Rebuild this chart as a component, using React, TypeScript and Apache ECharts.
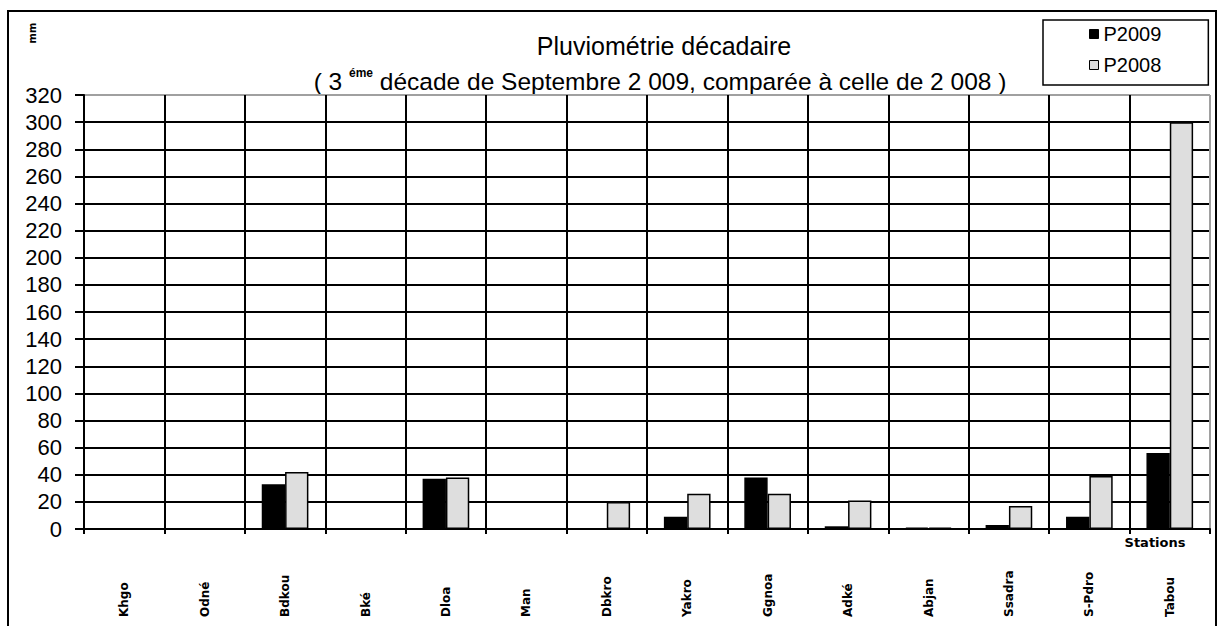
import React, { useEffect, useRef } from 'react';
import * as echarts from 'echarts';

const categories = ['Khgo', 'Odné', 'Bdkou', 'Bké', 'Dloa', 'Man', 'Dbkro', 'Yakro', 'Ggnoa', 'Adké', 'Abjan', 'Ssadra', 'S-Pdro', 'Tabou'];
const p2009 = [0, 0, 33, 0, 37, 0, 0, 9, 38, 2, 1, 3, 9, 56];
const p2008 = [0, 0, 42, 0, 38, 0, 20, 26, 26, 21, 1, 17, 39, 300];
const yMin = 0;
const yMax = 320;
const yStep = 20;
const seriesNames = ['P2009', 'P2008'];
const titleText = 'Pluviométrie décadaire';
const subtitleText = '{n|( 3 }{s|éme}{n| décade de Septembre 2 009, comparée à celle de 2 008 )}';

const LIGHT = '#dedede';

export default function App() {
  const ref = useRef<HTMLDivElement>(null);
  useEffect(() => {
    const chart = echarts.init(ref.current!, null, { renderer: 'svg' });
    const yLineCount = (yMax - yMin) / yStep + 1;
    const yColors = Array(yLineCount - 1).fill('#000').concat(['#a0a0a0']);
    const xColors = Array(categories.length).fill('#000').concat(['#a0a0a0']);
    chart.setOption({
      animation: false,
      backgroundColor: '#fff',
      grid: { left: 84, right: 20, top: 95, bottom: 97, containLabel: false },
      legend: {
        orient: 'vertical',
        left: 1043,
        top: 20,
        padding: [4, 47, 10, 46],
        itemGap: 11,
        itemWidth: 9,
        itemHeight: 9,
        itemTextGap: 3,
        icon: 'rect',
        borderColor: '#000',
        borderWidth: 1.5,
        textStyle: { fontFamily: 'Liberation Sans', fontSize: 20, color: '#000' },
        data: [
          { name: seriesNames[0], itemStyle: { color: '#000', borderColor: '#000', borderWidth: 1 } },
          { name: seriesNames[1], itemStyle: { color: LIGHT, borderColor: '#000', borderWidth: 1 } },
        ],
      },
      xAxis: {
        type: 'category',
        data: categories,
        boundaryGap: true,
        axisLine: { show: true, lineStyle: { color: '#000', width: 2 } },
        axisTick: { show: true, length: 5, interval: 0, lineStyle: { color: '#000', width: 2 } },
        splitLine: { show: true, interval: 0, lineStyle: { color: xColors, width: 2 } },
        axisLabel: {
          interval: 0,
          rotate: 90,
          align: 'left',
          verticalAlign: 'middle',
          margin: 88,
          fontFamily: 'DejaVu Sans',
          fontWeight: 'bold',
          fontSize: 12,
          color: '#000',
        },
      },
      yAxis: {
        type: 'value',
        min: yMin,
        max: yMax,
        interval: yStep,
        axisLine: { show: true, lineStyle: { color: '#000', width: 2 } },
        axisTick: { show: true, length: 9, lineStyle: { color: '#000', width: 2 } },
        splitLine: { show: true, lineStyle: { color: yColors, width: 2 } },
        axisLabel: { margin: 22, fontFamily: 'Liberation Sans', fontSize: 22, color: '#000' },
      },
      series: [
        {
          name: seriesNames[0],
          type: 'bar',
          data: p2009,
          barGap: '0%',
          barCategoryGap: '42%',
          itemStyle: { color: '#000', borderColor: '#000', borderWidth: 1.5 },
        },
        {
          name: seriesNames[1],
          type: 'bar',
          data: p2008,
          barGap: '0%',
          barCategoryGap: '42%',
          itemStyle: { color: LIGHT, borderColor: '#000', borderWidth: 1.5 },
        },
      ],
      graphic: [
        {
          type: 'rect',
          silent: true,
          z: 100,
          shape: { x: 8, y: 11, width: 1208, height: 700 },
          style: { fill: 'none', stroke: '#000', lineWidth: 2 },
        },
        {
          type: 'text',
          x: 664,
          y: 46,
          style: {
            text: titleText,
            font: '25px "Liberation Sans"',
            fill: '#000',
            textAlign: 'center',
            textVerticalAlign: 'middle',
          },
        },
        {
          type: 'text',
          x: 660,
          y: 80,
          style: {
            text: subtitleText,
            textAlign: 'center',
            textVerticalAlign: 'middle',
            rich: {
              n: { fontFamily: 'Liberation Sans', fontSize: 24.5, color: '#000', lineHeight: 27, verticalAlign: 'bottom' },
              s: { fontFamily: 'Liberation Sans', fontSize: 12, fontWeight: 'bold', color: '#000', verticalAlign: 'top', padding: [0, 0, 12, 0] },
            },
          },
        },
        {
          type: 'text',
          x: 32,
          y: 33,
          rotation: Math.PI / 2,
          style: {
            text: 'mm',
            font: 'bold 10px "DejaVu Sans"',
            fill: '#000',
            textAlign: 'center',
            textVerticalAlign: 'middle',
          },
        },
        {
          type: 'text',
          x: 1155,
          y: 542,
          style: {
            text: 'Stations',
            font: 'bold 13px "DejaVu Sans"',
            fill: '#000',
            textAlign: 'center',
            textVerticalAlign: 'middle',
          },
        },
      ],
    });
    return () => chart.dispose();
  }, []);
  return (
    <div
      ref={ref}
      style={{ position: 'fixed', left: 0, top: 0, width: 1230, height: 626, background: '#fff' }}
    />
  );
}
